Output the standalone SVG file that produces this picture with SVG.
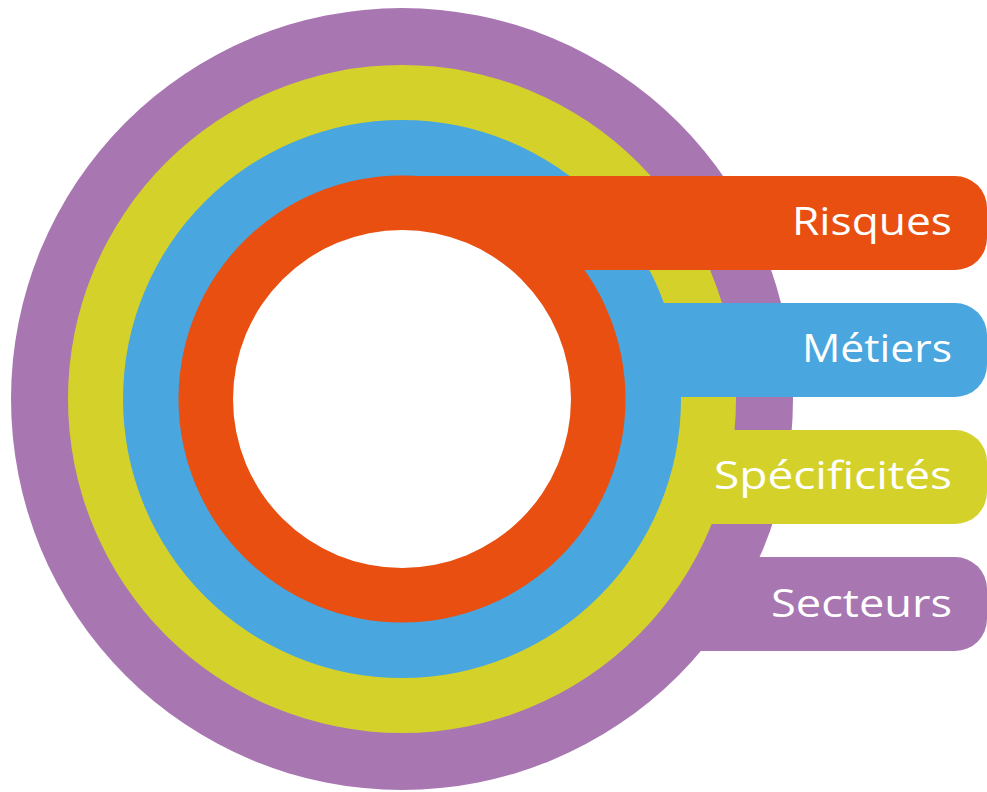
<svg xmlns="http://www.w3.org/2000/svg" width="987" height="792" viewBox="0 0 987 792">
<style>
.lbl{font-family:"Open Sans","Noto Sans","Liberation Sans",sans-serif;font-size:38px;fill:#ffffff;text-anchor:end}
.p{fill:#A877B2}.y{fill:#D4D22A}.b{fill:#49A6DE}.o{fill:#E84F11}
</style>
<rect width="987" height="792" fill="#ffffff"/>
<g id="secteurs" class="p">
<circle cx="402" cy="399" r="391"/>
<path d="M402,557 H955 A32,32 0 0 1 987,589 V619 A32,32 0 0 1 955,651 H402 Z"/>
<text class="lbl" x="952" y="617" textLength="181" lengthAdjust="spacingAndGlyphs">Secteurs</text>
</g>
<g id="specificites" class="y">
<circle cx="402" cy="399" r="334"/>
<path d="M402,430 H955 A32,32 0 0 1 987,462 V492 A32,32 0 0 1 955,524 H402 Z"/>
<text class="lbl" x="952" y="489" textLength="238" lengthAdjust="spacingAndGlyphs">Spécificités</text>
</g>
<g id="metiers" class="b">
<circle cx="402" cy="399" r="279"/>
<path d="M402,303 H955 A32,32 0 0 1 987,335 V365 A32,32 0 0 1 955,397 H402 Z"/>
<text class="lbl" x="952" y="362" textLength="150" lengthAdjust="spacingAndGlyphs">Métiers</text>
</g>
<g id="risques" class="o">
<circle cx="402" cy="399" r="223.5"/>
<path d="M402,176 H955 A32,32 0 0 1 987,208 V238 A32,32 0 0 1 955,270 H402 Z"/>
<text class="lbl" x="952" y="235" textLength="160" lengthAdjust="spacingAndGlyphs">Risques</text>
</g>
<g id="centre">
<circle cx="402" cy="399" r="169" fill="#ffffff"/>
</g>
</svg>
